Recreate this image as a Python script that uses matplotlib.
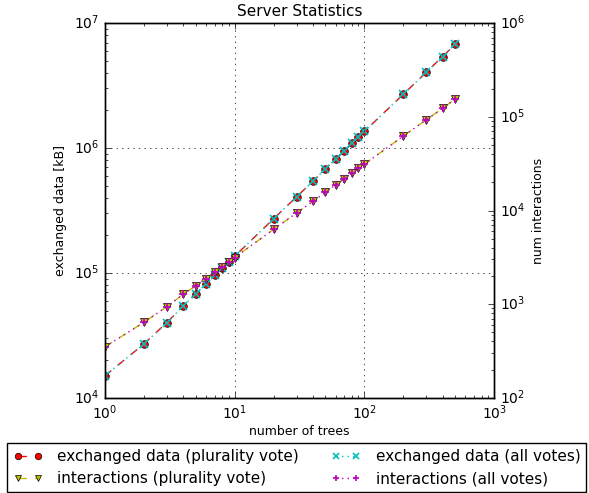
import numpy as np
import matplotlib
matplotlib.use("Agg")
import matplotlib.pyplot as plt

plt.style.use('classic')
plt.rcParams['xtick.labelsize'] = 10
plt.rcParams['ytick.labelsize'] = 10

# number of trees
trees = [1, 2, 3, 4, 5, 6, 7, 8, 9, 10, 20, 30, 40, 50, 60, 70, 80, 90, 100,
         200, 300, 400, 500]

# exchanged data [kB] (plurality vote and all votes give the same values)
data_plurality = [1.5e4, 2.7e4, 4.0e4, 5.4e4, 6.8e4, 8.2e4, 9.6e4, 1.1e5, 1.23e5,
                  1.36e5, 2.72e5, 4.07e5, 5.4e5, 6.8e5, 8.15e5, 9.5e5, 1.09e6,
                  1.22e6, 1.36e6, 2.7e6, 4.05e6, 5.4e6, 6.75e6]
data_all = [1.5e4, 2.7e4, 4.0e4, 5.4e4, 6.8e4, 8.2e4, 9.6e4, 1.1e5, 1.23e5,
            1.36e5, 2.72e5, 4.07e5, 5.4e5, 6.8e5, 8.15e5, 9.5e5, 1.09e6,
            1.22e6, 1.36e6, 2.7e6, 4.05e6, 5.4e6, 6.75e6]

# number of interactions
inter_plurality = [350, 640, 940, 1270, 1570, 1870, 2200, 2500, 2800, 3150,
                   6300, 9400, 12500, 15600, 18800, 21900, 25000, 28100, 31200,
                   62500, 93000, 123000, 155000]
inter_all = [350, 640, 940, 1270, 1570, 1870, 2200, 2500, 2800, 3150,
             6300, 9400, 12500, 15600, 18800, 21900, 25000, 28100, 31200,
             62500, 93000, 123000, 155000]

fig = plt.figure(figsize=(5.89, 4.93), dpi=100, facecolor='white')
ax = fig.add_axes([0.178, 0.193, 0.661, 0.760])
ax2 = ax.twinx()

l1, = ax.plot(trees, data_plurality, 'ro--', ms=5.5, label='exchanged data (plurality vote)')
l2, = ax.plot(trees, data_all, 'cx:', ms=5.5, mew=1.2, label='exchanged data (all votes)')
l3, = ax2.plot(trees, inter_plurality, 'yv--', ms=5.5, label='interactions (plurality vote)')
l4, = ax2.plot(trees, inter_all, 'm+:', ms=5.5, mew=1.2, label='interactions (all votes)')

ax.set_xscale('log')
ax.set_yscale('log')
ax2.set_yscale('log')
ax.set_xlim(1, 1000)
ax.set_ylim(1e4, 1e7)
ax2.set_ylim(1e2, 1e6)

ax.grid(True, which='major')
ax.set_title('Server Statistics', fontsize=11)
ax.set_xlabel('number of trees', fontsize=9, labelpad=2)
ax.set_ylabel('exchanged data [kB]', fontsize=9)
ax2.set_ylabel('num interactions', fontsize=9)

fig.legend([l1, l3, l2, l4],
           [l1.get_label(), l3.get_label(), l2.get_label(), l4.get_label()],
           loc='upper left', bbox_to_anchor=(0.012, 0.101), ncol=2,
           fontsize=11, numpoints=2, handlelength=1.9, handletextpad=1.0,
           borderaxespad=0, columnspacing=2.1, labelspacing=0.45,
           markerscale=0.85)

fig.savefig('out.png', dpi=100, facecolor='white')
